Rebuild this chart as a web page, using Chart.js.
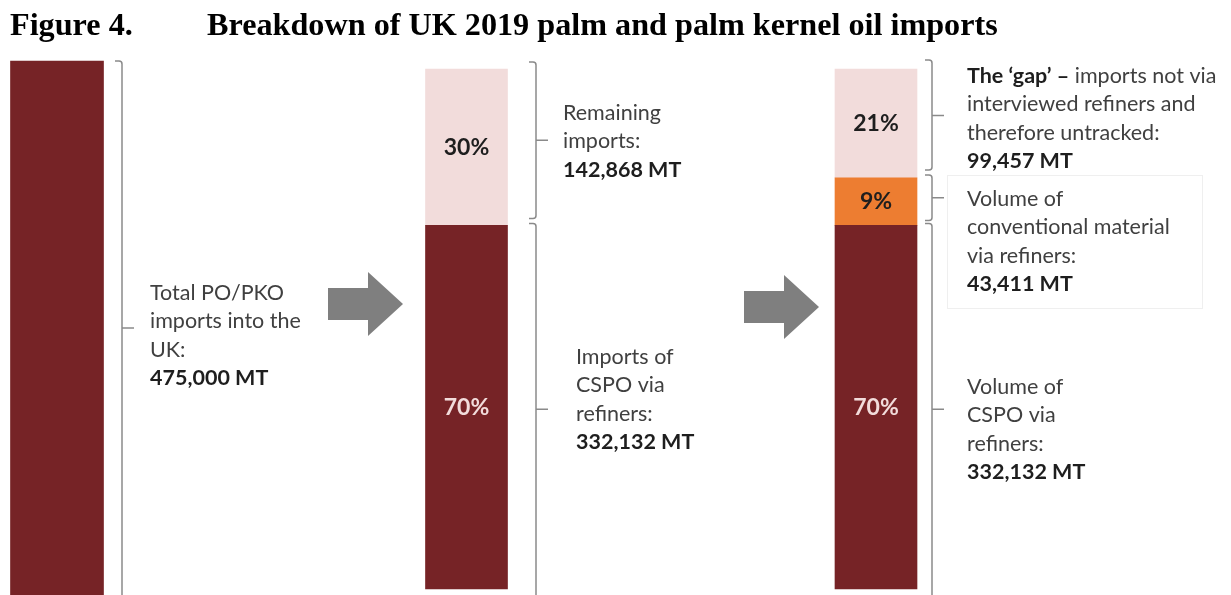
<!DOCTYPE html>
<html>
<head>
<meta charset="utf-8">
<script src="https://cdn.jsdelivr.net/npm/chart.js@4.4.1/dist/chart.umd.min.js"></script>
<style>
  html, body { margin: 0; padding: 0; background: #fff; }
  #wrap { position: relative; width: 1231px; height: 595px; }
</style>
</head>
<body>
<div id="wrap"><canvas id="importsChart" width="1231" height="595"></canvas></div>
<script>
// one bar per step of the breakdown
const categories = ['Total imports', 'Via refiners', 'Tracked vs gap'];

// volumes in MT
const totalImports   = [475000, null, null];
const cspoViaRefiner = [null, 332132, 332132];
const conventional   = [null, null, 43411];
const remaining      = [null, 142868, null];
const gapUntracked   = [null, null, 99457];

// notes next to the brackets
const noteTotal     = ['Total PO/PKO', 'imports into the', 'UK:'];
const noteRemaining = ['Remaining', 'imports:'];
const noteCspo2     = ['Imports of', 'CSPO via', 'refiners:'];
const noteGap       = ['interviewed refiners and', 'therefore untracked:'];
const noteConv      = ['Volume of', 'conventional material', 'via refiners:'];
const noteCspo3     = ['Volume of', 'CSPO via', 'refiners:'];

const maroon = '#762326';
const blush = '#F2DCDB';
const orange = '#ED7D31';
const greyLine = '#8a8a8a';
const textGrey = '#404040';
const textDark = '#1e1e1e';
const bodyFont = 'Lato';

const fmt = v => v.toLocaleString('en-US') + ' MT';

function drawBracket(ctx, x, top, bottom, midY) {
  const hook = 7, r = 3, tick = 12;
  ctx.beginPath();
  ctx.moveTo(x - hook, top);
  ctx.lineTo(x - r, top);
  ctx.quadraticCurveTo(x, top, x, top + r);
  ctx.lineTo(x, bottom - r);
  ctx.quadraticCurveTo(x, bottom, x - r, bottom);
  ctx.lineTo(x - hook, bottom);
  ctx.moveTo(x, midY);
  ctx.lineTo(x + tick, midY);
  ctx.stroke();
}

function drawArrow(ctx, x0, cy) {
  const len = 75, headLen = 35, bodyHalf = 16, headHalf = 32;
  ctx.beginPath();
  ctx.moveTo(x0, cy - bodyHalf);
  ctx.lineTo(x0 + len - headLen, cy - bodyHalf);
  ctx.lineTo(x0 + len - headLen, cy - headHalf);
  ctx.lineTo(x0 + len, cy);
  ctx.lineTo(x0 + len - headLen, cy + headHalf);
  ctx.lineTo(x0 + len - headLen, cy + bodyHalf);
  ctx.lineTo(x0, cy + bodyHalf);
  ctx.closePath();
  ctx.fillStyle = '#7f7f7f';
  ctx.fill();
}

function drawNote(ctx, x, y, lines, value) {
  const lh = 28.5;
  ctx.textAlign = 'left';
  ctx.textBaseline = 'middle';
  lines.forEach((ln, i) => {
    let cx = x;
    const parts = Array.isArray(ln) ? ln : [[ln, false]];
    parts.forEach(([txt, bold]) => {
      ctx.font = (bold ? 'bold ' : '') + '21.5px ' + bodyFont;
      ctx.fillStyle = bold ? textDark : textGrey;
      ctx.fillText(txt, cx, y + i * lh);
      cx += ctx.measureText(txt).width;
    });
  });
  ctx.font = 'bold 21.5px ' + bodyFont;
  ctx.fillStyle = textDark;
  ctx.fillText(fmt(value), x, y + lines.length * lh);
}

const annotations = {
  id: 'annotations',
  afterDraw(chart) {
    const ctx = chart.ctx;
    const total = totalImports[0];
    const bottomEdge = chart.chartArea.bottom;

    // title
    ctx.save();
    ctx.fillStyle = '#000';
    ctx.textBaseline = 'alphabetic';
    ctx.textAlign = 'left';
    const heading = 'Breakdown of UK 2019 palm and palm kernel oil imports';
    ctx.font = 'bold 31px "Liberation Serif"';
    const size = 31 * 790 / ctx.measureText(heading).width;
    ctx.font = 'bold ' + size.toFixed(1) + 'px "Liberation Serif"';
    ctx.fillText('Figure 4.', 10, 35);
    ctx.fillText(heading, 207, 35);
    ctx.restore();

    // percentage labels inside segments
    ctx.save();
    ctx.textAlign = 'center';
    ctx.textBaseline = 'middle';
    ctx.font = 'bold 23px ' + bodyFont;
    for (let d = 1; d < chart.data.datasets.length; d++) {
      const ds = chart.data.datasets[d];
      chart.getDatasetMeta(d).data.forEach((el, i) => {
        const v = ds.data[i];
        if (v == null) return;
        ctx.fillStyle = ds.backgroundColor === maroon ? blush : textDark;
        ctx.fillText(Math.round(v / total * 100) + '%', el.x, (el.y + el.base) / 2);
      });
    }
    ctx.restore();

    // brackets
    ctx.save();
    ctx.strokeStyle = greyLine;
    ctx.lineWidth = 1.5;
    const shift = -7;
    const seg = (d, i) => chart.getDatasetMeta(d).data[i];
    const b1 = chart.getDatasetMeta(0).data[0];
    drawBracket(ctx, 122, b1.y, bottomEdge + 20, (b1.y + bottomEdge) / 2);

    // bar 2
    let s = seg(3, 1);
    drawBracket(ctx, 536, s.y + shift, s.base + shift, (s.y + s.base) / 2 + shift);
    s = seg(1, 1);
    let top = s.y - 2;
    drawBracket(ctx, 536, top, bottomEdge + 20, (top + bottomEdge) / 2);

    // bar 3
    s = seg(4, 2);
    drawBracket(ctx, 932, s.y - 9, s.base - 8, (s.y + s.base) / 2 - 8);
    s = seg(2, 2);
    drawBracket(ctx, 932, s.y - 3, s.base - 5, (s.y + s.base) / 2 - 4);
    s = seg(1, 2);
    top = s.y - 2;
    drawBracket(ctx, 932, top, bottomEdge + 20, (top + bottomEdge) / 2);
    ctx.restore();

    // arrows
    ctx.save();
    drawArrow(ctx, 328, 304);
    drawArrow(ctx, 744, 307);
    ctx.restore();

    // faint frame round the conventional note
    ctx.save();
    ctx.strokeStyle = '#efefef';
    ctx.lineWidth = 1;
    ctx.strokeRect(947.5, 175.5, 255, 133);
    ctx.restore();

    // notes
    ctx.save();
    drawNote(ctx, 150, 293, noteTotal, totalImports[0]);
    drawNote(ctx, 563, 113, noteRemaining, remaining[1]);
    drawNote(ctx, 576, 357, noteCspo2, cspoViaRefiner[1]);
    drawNote(ctx, 967, 76, [[['The \u2018gap\u2019 \u2013', true], [' imports not via', false]]].concat(noteGap), gapUntracked[2]);
    drawNote(ctx, 967, 199, noteConv, conventional[2]);
    drawNote(ctx, 967, 387, noteCspo3, cspoViaRefiner[2]);
    ctx.restore();
  }
};

const ctx = document.getElementById('importsChart');
const chart = new Chart(ctx, {
  type: 'bar',
  data: {
    labels: categories,
    datasets: [
      { label: 'Total PO/PKO imports', data: totalImports, yAxisID: 'yTotal', backgroundColor: maroon, barThickness: 93 },
      { label: 'CSPO via refiners', data: cspoViaRefiner, yAxisID: 'y', backgroundColor: maroon, barThickness: 82 },
      { label: 'Conventional via refiners', data: conventional, yAxisID: 'y', backgroundColor: orange, barThickness: 82 },
      { label: 'Remaining imports', data: remaining, yAxisID: 'y', backgroundColor: blush, barThickness: 82 },
      { label: 'The gap', data: gapUntracked, yAxisID: 'y', backgroundColor: blush, barThickness: 82 }
    ]
  },
  options: {
    responsive: false,
    animation: false,
    layout: { padding: { left: 57, right: 355, top: 61, bottom: 0 } },
    datasets: { bar: { clip: false } },
    scales: {
      x: { type: 'category', offset: false, stacked: true, display: false },
      y: { stacked: true, min: -5481, max: 482308, display: false },
      yTotal: { stacked: true, min: 0, max: 475000, display: false }
    },
    plugins: {
      legend: { display: false },
      tooltip: { enabled: false }
    }
  },
  plugins: [annotations]
});
</script>
</body>
</html>
